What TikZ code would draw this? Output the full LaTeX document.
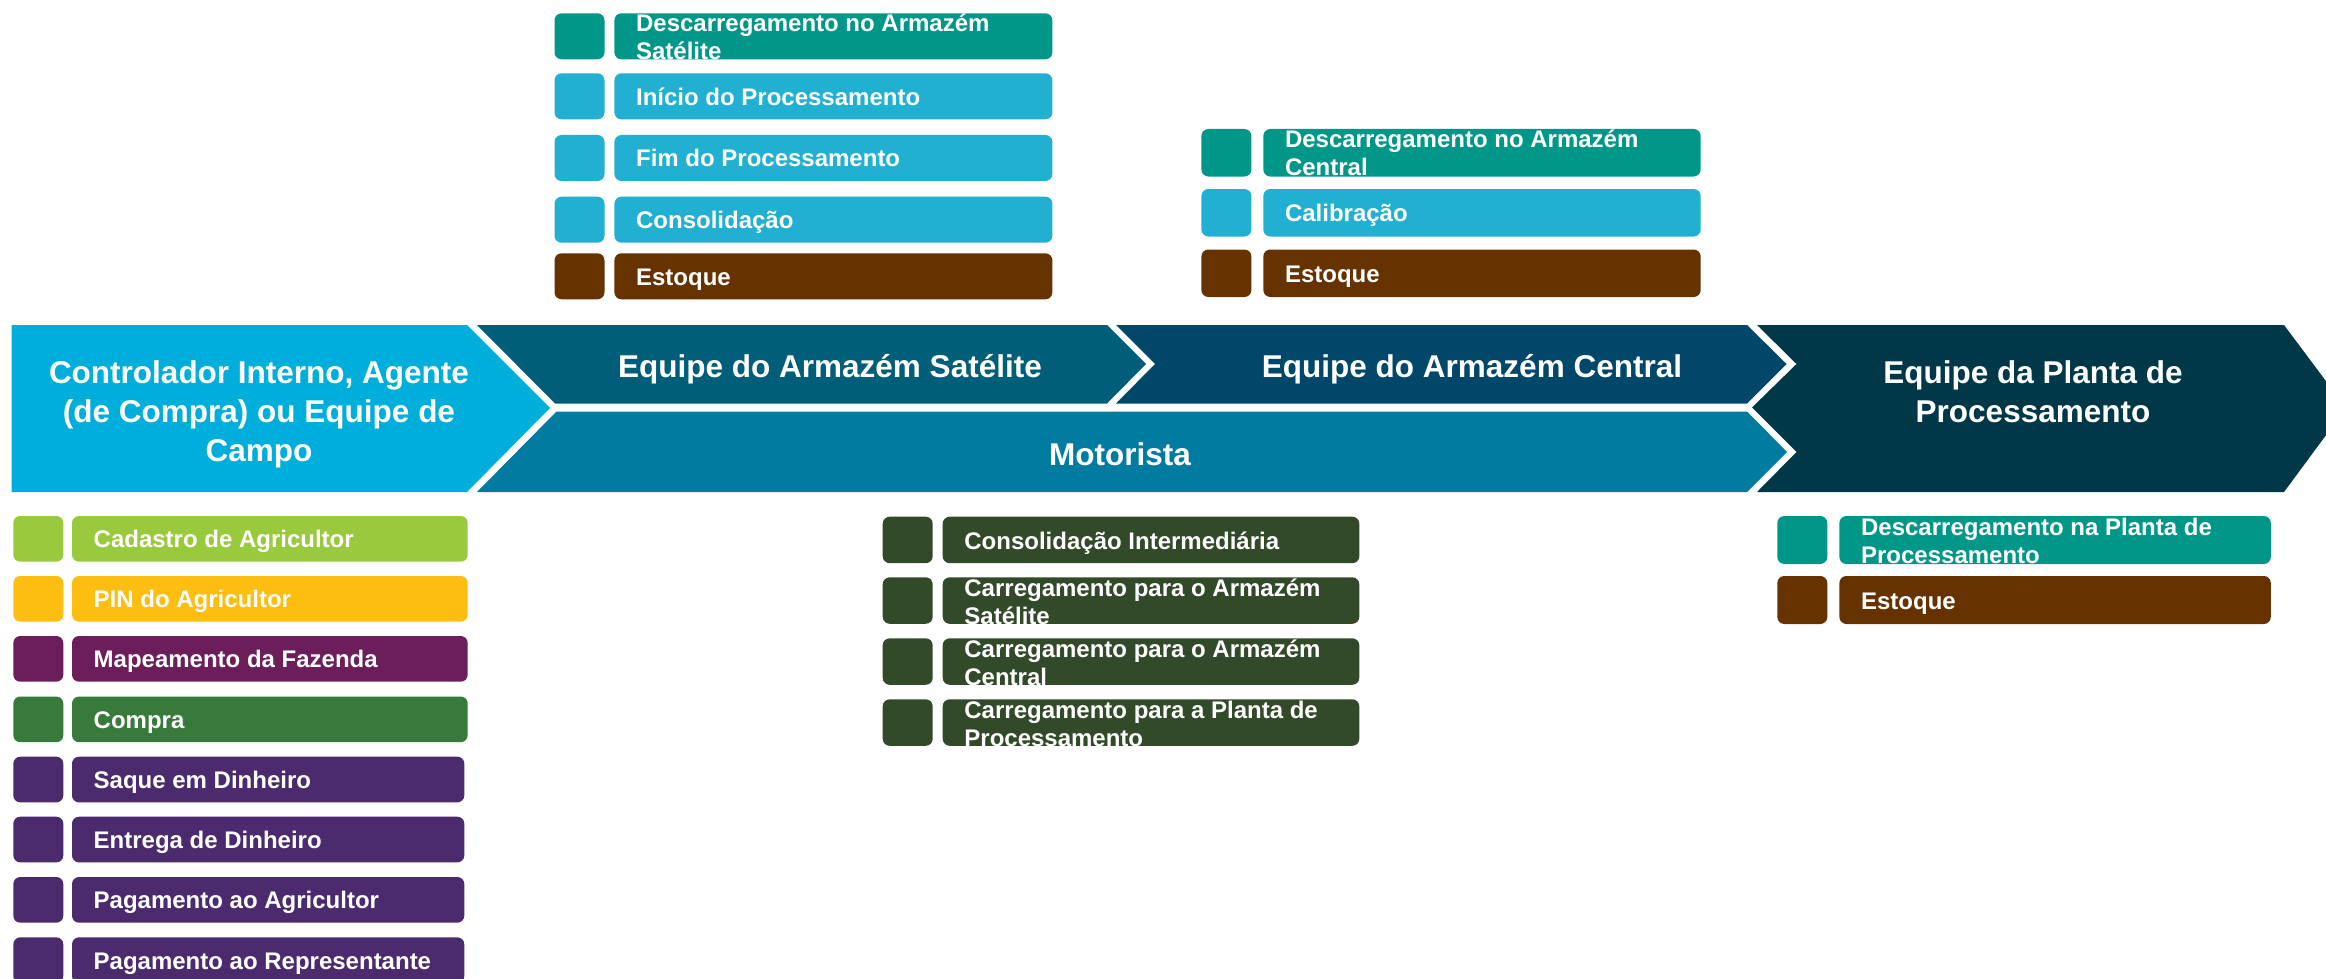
\documentclass[tikz,border=0pt]{standalone}
\usepackage{fontspec}
\setmainfont{Liberation Sans}
\definecolor{cLime}{HTML}{99C93C}
\definecolor{cYellow}{HTML}{FDBD11}
\definecolor{cPlum}{HTML}{6B1E59}
\definecolor{cGreen}{HTML}{387A3C}
\definecolor{cPurple}{HTML}{4B2A6D}
\definecolor{cTeal}{HTML}{009788}
\definecolor{cSky}{HTML}{21B0D1}
\definecolor{cBrown}{HTML}{663300}
\definecolor{cDark}{HTML}{334A2A}
\definecolor{chA}{HTML}{00AEDB}
\definecolor{chB}{HTML}{005E78}
\definecolor{chC}{HTML}{014769}
\definecolor{chD}{HTML}{017CA0}
\definecolor{chE}{HTML}{013847}
\tikzset{
  sqbox/.style={rectangle, rounded corners=7pt, minimum width=50pt, inner sep=0pt, outer sep=0pt, anchor=north west, draw=none},
  barbox/.style={rectangle, rounded corners=7pt, inner sep=0pt, outer sep=0pt, anchor=north west, draw=none},
  lbl/.style={text=white, font=\bfseries\fontsize{24}{27.6}\selectfont, anchor=base west, align=left, inner sep=0pt},
  chtext/.style={text=white, font=\bfseries\fontsize{31.5}{39}\selectfont, align=center, inner sep=0pt}
}
% #1 name, #2 colour, #3 square left, #4 bar left, #5 bar right, #6 top, #7 height, #8 last baseline offset, #9 text
\newcommand\procrow[9]{%
  \node[sqbox, fill=#2, minimum height=#7pt] (#1s) at (#3,#6) {};
  \node[barbox, fill=#2, minimum height=#7pt, minimum width={#5-#4}] (#1) at (#4,#6) {};
  \node[lbl] (#1t) at ({#4+21.5},{#6+#8}) {#9};
}
\begin{document}
\begin{tikzpicture}[x=1pt,y=-1pt]
\useasboundingbox (0,0) rectangle (2326,979);
\clip (0,0) rectangle (2326,979);
\fill[white] (0,0) rectangle (2326,979);

% chevron band
\fill[chA] (11.5,325) -- (467,325) -- (550,408) -- (467,492) -- (11.5,492) -- cycle;
\fill[chB] (477,325) -- (1107,325) -- (1146,364) -- (1107,403.5) -- (555,403.5) -- cycle;
\fill[chC] (1116,325) -- (1747,325) -- (1786.5,364) -- (1747,403.5) -- (1116,403.5) -- (1155,364) -- cycle;
\fill[chD] (556.5,411.5) -- (1747,411.5) -- (1787,452) -- (1747,492) -- (477,492) -- cycle;
\fill[chE] (1757,325) -- (2284,325) -- (2346,408) -- (2284,492) -- (1757,492) -- (1796.5,452) -- (1752,407.5) -- (1796.5,364) -- cycle;

\node[chtext] (tA) at (259,414) {Controlador Interno, Agente\\(de Compra) ou Equipe de\\Campo};
\node[chtext] (tB) at (830,369) {Equipe do Armazém Satélite};
\node[chtext] (tC) at (1472,369) {Equipe do Armazém Central};
\node[chtext] (tD) at (1120,454) {Motorista};
\node[chtext] (tE) at (2033,392) {Equipe da Planta de\\Processamento};

% satellite warehouse group
\procrow{s1}{cTeal}{554.5}{614.4}{1052.4}{13.3}{46}{46.2}{Descarregamento no Armazém\\Satélite}
\procrow{s2}{cSky}{554.5}{614.4}{1052.4}{73.3}{46}{31.8}{Início do Processamento}
\procrow{s3}{cSky}{554.5}{614.4}{1052.4}{135}{46}{31.8}{Fim do Processamento}
\procrow{s4}{cSky}{554.5}{614.4}{1052.4}{196.7}{46}{31.8}{Consolidação}
\procrow{s5}{cBrown}{554.5}{614.4}{1052.4}{253.3}{46}{31.8}{Estoque}

% central warehouse group
\procrow{c1}{cTeal}{1201.4}{1263.3}{1700.7}{129}{47.5}{46.6}{Descarregamento no Armazém\\Central}
\procrow{c2}{cSky}{1201.4}{1263.3}{1700.7}{189}{47.5}{32.5}{Calibração}
\procrow{c3}{cBrown}{1201.4}{1263.3}{1700.7}{249.5}{47.5}{32.5}{Estoque}

% field group
\procrow{f1}{cLime}{13.3}{72}{467.7}{516}{45.7}{31.8}{Cadastro de Agricultor}
\procrow{f2}{cYellow}{13.3}{72}{467.7}{576}{45.7}{31.8}{PIN do Agricultor}
\procrow{f3}{cPlum}{13.3}{72}{467.7}{636}{45.7}{31.8}{Mapeamento da Fazenda}
\procrow{f4}{cGreen}{13.3}{72}{467.7}{696.5}{45.7}{31.8}{Compra}
\procrow{f5}{cPurple}{13.3}{72}{464.3}{756.7}{45.7}{31.8}{Saque em Dinheiro}
\procrow{f6}{cPurple}{13.3}{72}{464.3}{816.7}{45.7}{31.8}{Entrega de Dinheiro}
\procrow{f7}{cPurple}{13.3}{72}{464.3}{877}{45.7}{31.8}{Pagamento ao Agricultor}
\procrow{f8}{cPurple}{13.3}{72}{464.3}{937.3}{45.7}{31.8}{Pagamento ao Representante}

% driver group
\procrow{m1}{cDark}{882.7}{942.7}{1359.3}{516.7}{46.5}{32.6}{Consolidação Intermediária}
\procrow{m2}{cDark}{882.7}{942.7}{1359.3}{577.3}{46.5}{47}{Carregamento para o Armazém\\Satélite}
\procrow{m3}{cDark}{882.7}{942.7}{1359.3}{638.3}{46.5}{47}{Carregamento para o Armazém\\Central}
\procrow{m4}{cDark}{882.7}{942.7}{1359.3}{699.3}{46.5}{47}{Carregamento para a Planta de\\Processamento}

% processing plant group
\procrow{p1}{cTeal}{1777.3}{1839.4}{2270.8}{516}{48}{47.1}{Descarregamento na Planta de\\Processamento}
\procrow{p2}{cBrown}{1777.3}{1839.4}{2270.8}{576}{48}{33}{Estoque}
\end{tikzpicture}
\end{document}
